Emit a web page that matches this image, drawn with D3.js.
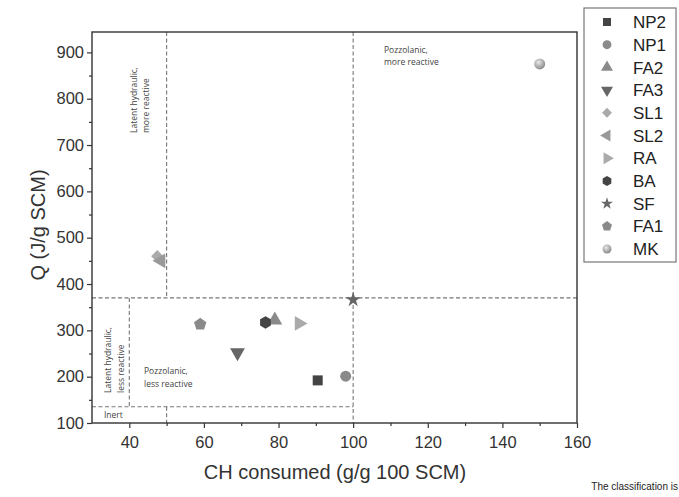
<!DOCTYPE html>
<meta charset="utf-8">
<script src="https://d3js.org/d3.v7.min.js"></script>
<style>
  body { margin: 0; background: #fff; }
  text { font-family: "Liberation Sans", Arial, sans-serif; }
  .note { font-family: "Open Sans", sans-serif; font-size: 8.5px; fill: #444; }
</style>
<div id="chart"></div>
<script>
// materials, CH consumed (g/g 100 SCM) and heat release Q (J/g SCM)
const names = ["NP2", "NP1", "FA2", "FA3", "SL1", "SL2", "RA", "BA", "SF", "FA1", "MK"];
const chValues = [90.5, 98, 79, 69, 47.5, 48.5, 85.5, 76.5, 100, 59, 150];
const qValues = [192, 201, 322, 252, 460, 450, 315, 317, 366, 313, 875];
const xTicks = [40, 60, 80, 100, 120, 140, 160];
const yTicks = [100, 200, 300, 400, 500, 600, 700, 800, 900];

// classification borders
const chBorders = { inertOrHydraulic: 40, hydraulic: 50, pozzolanic: 100 };
const qBorders = { inert: 135, reactive: 370 };

const W = 679, H = 497;
const margin = { top: 32, right: 102, bottom: 74, left: 92 };
const width = W - margin.left - margin.right,
      height = H - margin.top - margin.bottom;

const svg = d3.select("#chart").append("svg")
  .attr("width", W).attr("height", H);

const defs = svg.append("defs");
const grad = defs.append("radialGradient").attr("id", "ball")
  .attr("cx", "40%").attr("cy", "35%").attr("r", "65%");
grad.append("stop").attr("offset", "0%").attr("stop-color", "#e8e8e8");
grad.append("stop").attr("offset", "100%").attr("stop-color", "#8a8a8a");

const g = svg.append("g").attr("transform", `translate(${margin.left},${margin.top})`);

const x = d3.scaleLinear().domain([30, 160]).range([0, width]);
const y = d3.scaleLinear().domain([100, 944]).range([height, 0]);

// dashed classification lines
const dash = g.append("g").attr("stroke", "#777").attr("stroke-width", 1.1)
  .attr("stroke-dasharray", "4,2.5").attr("fill", "none");
function dline(x1, y1, x2, y2) {
  dash.append("line").attr("x1", x1).attr("y1", y1).attr("x2", x2).attr("y2", y2);
}
dline(0, y(qBorders.reactive), width, y(qBorders.reactive));
dline(0, y(qBorders.inert), x(chBorders.pozzolanic), y(qBorders.inert));
dline(x(chBorders.hydraulic), 0, x(chBorders.hydraulic), y(qBorders.reactive));
dline(x(chBorders.hydraulic), y(qBorders.inert), x(chBorders.hydraulic), height);
dline(x(chBorders.inertOrHydraulic), y(qBorders.reactive), x(chBorders.inertOrHydraulic), y(qBorders.inert));
dline(x(chBorders.pozzolanic), 0, x(chBorders.pozzolanic), height);

// region notes, one text per line
function note(lines, tx, ty, rotate, step) {
  lines.forEach((l, i) => {
    const px = rotate ? tx + i * step : tx, py = rotate ? ty : ty + i * step;
    g.append("text").attr("class", "note")
      .attr("transform", `translate(${px},${py})` + (rotate ? " rotate(-90)" : ""))
      .text(l);
  });
}
note(["Latent hydraulic,", "more reactive"], 45, 101, true, 12);
note(["Latent hydraulic,", "less reactive"], 19, 361, true, 12.5);
note(["Pozzolanic,", "less reactive"], 52, 342, false, 13);
note(["Inert"], 12, 386, false, 12);
note(["Pozzolanic,", "more reactive"], 292, 21, false, 12);

// axes
const xAxis = g.append("g").attr("transform", `translate(0,${height})`)
  .call(d3.axisBottom(x).tickValues(d3.range(40, 161, 10)).tickSize(5)
    .tickFormat(d => xTicks.includes(d) ? d : ""));
const yAxis = g.append("g")
  .call(d3.axisLeft(y).tickValues(d3.range(100, 901, 50)).tickSize(5)
    .tickFormat(d => yTicks.includes(d) ? d : ""));
[xAxis, yAxis].forEach(a => {
  a.select(".domain").remove();
  a.selectAll("line").attr("stroke", "#333").attr("stroke-width", 1.2);
  a.selectAll("text").attr("font-size", 16.5).attr("fill", "#333")
    .attr("font-family", "'Liberation Sans', Arial, sans-serif");
});
xAxis.selectAll(".tick").filter(d => !xTicks.includes(d)).select("line").attr("y2", 3);
yAxis.selectAll(".tick").filter(d => !yTicks.includes(d)).select("line").attr("x2", -3);
xAxis.selectAll("text").attr("dy", "1.05em");

g.append("rect").attr("width", width).attr("height", height)
  .attr("fill", "none").attr("stroke", "#333").attr("stroke-width", 1.4);

svg.append("text").attr("x", 335).attr("y", 479)
  .attr("text-anchor", "middle").attr("font-size", 20).attr("fill", "#333")
  .text("CH consumed (g/g 100 SCM)");
svg.append("text").attr("transform", "translate(45,225) rotate(-90)")
  .attr("text-anchor", "middle").attr("font-size", 20).attr("fill", "#333")
  .text("Q (J/g SCM)");

// marker shapes
function polygon(n, rot) {
  return {
    draw(ctx, size) {
      const r = Math.sqrt(size / (n * 0.5 * Math.sin(2 * Math.PI / n)));
      for (let i = 0; i < n; i++) {
        const a = rot + 2 * Math.PI * i / n;
        const px = r * Math.sin(a), py = -r * Math.cos(a);
        i ? ctx.lineTo(px, py) : ctx.moveTo(px, py);
      }
      ctx.closePath();
    }
  };
}
const markers = {
  NP2: { type: d3.symbolSquare, rot: 0, size: 100, fill: "#444" },
  NP1: { type: d3.symbolCircle, rot: 0, size: 95, fill: "#8a8a8a" },
  FA2: { type: d3.symbolTriangle, rot: 0, size: 95, fill: "#8a8a8a" },
  FA3: { type: d3.symbolTriangle, rot: 180, size: 95, fill: "#666" },
  SL1: { type: d3.symbolSquare, rot: 45, size: 75, fill: "#aaa" },
  SL2: { type: d3.symbolTriangle, rot: -90, size: 95, fill: "#999" },
  RA: { type: d3.symbolTriangle, rot: 90, size: 95, fill: "#aaa" },
  BA: { type: polygon(6, 0), rot: 0, size: 100, fill: "#444" },
  SF: { type: d3.symbolStar, rot: 0, size: 70, fill: "#666" },
  FA1: { type: polygon(5, 0), rot: 0, size: 100, fill: "#8a8a8a" },
  MK: { type: d3.symbolCircle, rot: 0, size: 95, fill: "url(#ball)" }
};
const data = names.map((n, i) => ({ name: n, ch: chValues[i], q: qValues[i] }));

g.selectAll(".pt").data(data).join("path").attr("class", "pt")
  .attr("transform", d => `translate(${x(d.ch)},${y(d.q)}) rotate(${markers[d.name].rot})`)
  .attr("d", d => d3.symbol().type(markers[d.name].type).size(markers[d.name].size)())
  .attr("fill", d => markers[d.name].fill);

// legend
const lg = svg.append("g").attr("transform", "translate(584,8)");
lg.append("rect").attr("width", 92).attr("height", 254)
  .attr("fill", "none").attr("stroke", "#777").attr("stroke-width", 1.2);
const items = lg.selectAll(".item").data(names).join("g")
  .attr("transform", (d, i) => `translate(0,${14 + i * 22.7})`);
items.append("path")
  .attr("transform", d => `translate(23,0) rotate(${markers[d].rot})`)
  .attr("d", d => d3.symbol().type(markers[d].type).size(markers[d].size * 0.65)())
  .attr("fill", d => markers[d].fill);
items.append("text").attr("x", 49).attr("dy", "0.36em")
  .attr("font-size", 17).attr("fill", "#222").text(d => d);

svg.append("text").attr("x", 678).attr("y", 490).attr("text-anchor", "end")
  .attr("font-family", "'Open Sans', sans-serif").attr("font-size", 10).attr("fill", "#222")
  .text("The classification is");
</script>
